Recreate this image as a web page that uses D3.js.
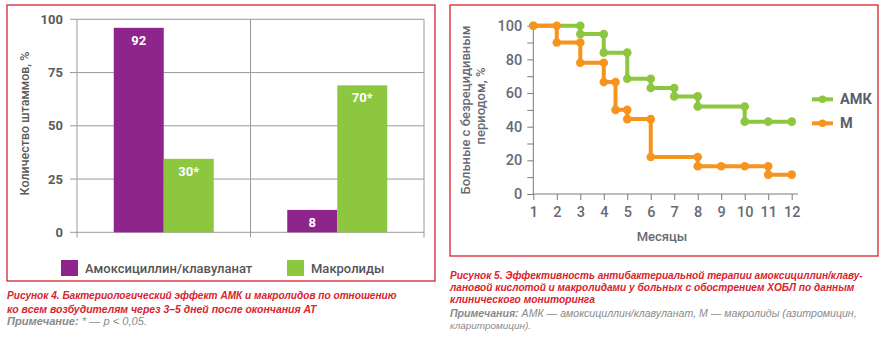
<!DOCTYPE html>
<html><head><meta charset="utf-8">
<script src="https://cdn.jsdelivr.net/npm/d3@7"></script>
<style>body{margin:0;background:#fff}svg{display:block}</style>
</head><body><svg id="c" width="886" height="339"></svg>
<script>
// ---------- DATA: Figure 4 (bars) ----------
const barCategories = ["A", "B"];               // unlabeled groups
const barSeries = ["Амоксициллин/клавуланат", "Макролиды"];
const amkBarValues = [96, 10.5];                 // drawn heights
const macBarValues = [34.5, 69];
const amkBarLabels = ["92", "8"];
const macBarLabels = ["30*", "70*"];
const barTicks = [0, 25, 50, 75, 100];

// ---------- DATA: Figure 5 (step lines) ----------
const monthTicks = [1,2,3,4,5,6,7,8,9,10,11,12];
const lineTicksY = [0,10,20,30,40,50,60,70,80,90,100];
const amkX = [1, 3, 3, 4, 4, 5, 5, 6, 6, 7, 7, 8, 8, 10, 10, 11, 12];
const amkY = [100,100,95,95,84,84,68.5,68.5,63,63,58,58,52,52,43,43,43];
const mX = [1, 2, 2, 3, 3, 4, 4, 4.5, 4.5, 5, 5, 6, 6, 8, 8, 9, 10, 11, 11, 12];
const mY = [100,100,90,90,78,78,66.5,66.5,50,50,44.5,44.5,22,22,16.5,16.5,16.5,16.5,11.5,11.5];
const lineSeries = ["АМК", "М"];

const PURPLE = "#8e258d", GREEN = "#8dc63f", ORANGE = "#f7941d", RED = "#d9232d";
const svg = d3.select("#c");

// ---------- Frames ----------
svg.append("rect").attr("x",7).attr("y",5).attr("width",428).attr("height",276)
  .attr("fill","none").attr("stroke",RED).attr("stroke-width",1.3);
svg.append("rect").attr("x",450).attr("y",5).attr("width",428).attr("height",251)
  .attr("fill","none").attr("stroke",RED).attr("stroke-width",1.3);

// ---------- Figure 4 ----------
{
  const g = svg.append("g");
  const x0 = d3.scaleBand().domain(barCategories).range([77, 424]).padding(0);
  const x1 = d3.scaleBand().domain(barSeries).range([0, x0.bandwidth()]).paddingInner(0).paddingOuter(0.735);
  const y = d3.scaleLinear().domain([0, 100]).range([232.3, 19.3]);
  const gridC = "#9a9a9a";
  g.selectAll(".hg").data(barTicks).join("line")
    .attr("x1", 70).attr("x2", 424).attr("y1", d => y(d)).attr("y2", d => y(d))
    .attr("stroke", gridC).attr("stroke-width", 1);
  const vx = [77, x0("B"), 424];
  g.selectAll(".vg").data(vx).join("line")
    .attr("x1", d => d).attr("x2", d => d).attr("y1", y(100)).attr("y2", 237.5)
    .attr("stroke", gridC).attr("stroke-width", 1);
  const ax = g.append("g").attr("transform","translate(77,0)")
    .call(d3.axisLeft(y).tickValues(barTicks).tickSize(0).tickPadding(14));
  ax.select(".domain").remove();
  ax.selectAll("text").attr("font-family","Roboto, sans-serif").attr("font-size",13)
    .attr("font-weight",700).attr("fill","#5b5b5b");
  const rows = barCategories.map((c, i) => [
    {c, s: barSeries[0], v: amkBarValues[i], lab: amkBarLabels[i], col: PURPLE},
    {c, s: barSeries[1], v: macBarValues[i], lab: macBarLabels[i], col: GREEN}
  ]).flat();
  g.selectAll(".bar").data(rows).join("rect")
    .attr("x", d => x0(d.c) + x1(d.s)).attr("width", x1.bandwidth())
    .attr("y", d => y(d.v)).attr("height", d => y(0) - y(d.v)).attr("fill", d => d.col);
  g.selectAll(".bl").data(rows).join("text")
    .attr("x", d => x0(d.c) + x1(d.s) + x1.bandwidth()/2).attr("y", d => y(d.v) + 17)
    .attr("text-anchor","middle").attr("fill","#fff").attr("font-family","Roboto, sans-serif")
    .attr("font-weight",700).attr("font-size",13).text(d => d.lab);
  g.append("text").attr("transform","translate(29,123.5) rotate(-90)").attr("text-anchor","middle")
    .attr("font-family","Roboto, sans-serif").attr("font-size",12.5).attr("font-weight",500)
    .attr("fill","#5b5b5b").text("Количество штаммов, %");
  const legX = [61, 287];
  const legCol = [PURPLE, GREEN];
  barSeries.forEach((s, i) => {
    g.append("rect").attr("x", legX[i]).attr("y", 260).attr("width", 17).attr("height", 16).attr("fill", legCol[i]);
    g.append("text").attr("x", legX[i] + 24).attr("y", 273).attr("font-family","Roboto, sans-serif")
      .attr("font-size",13).attr("font-weight",500).attr("fill","#555").text(s);
  });
}

// ---------- Figure 5 ----------
{
  const g = svg.append("g");
  const x = d3.scaleLinear().domain([1, 12]).range([533.3, 791.7]);
  const y = d3.scaleLinear().domain([0, 100]).range([194, 25.7]);
  const axC = "#7a7a7a", txtC = "#676a74";
  const ay = g.append("g").attr("transform","translate(533.3,0)")
    .call(d3.axisLeft(y).tickValues(lineTicksY).tickFormat(d => d % 20 === 0 ? d : "").tickSize(6).tickPadding(5));
  ay.select(".domain").remove();
  ay.selectAll("line").attr("stroke", axC);
  ay.selectAll("text").attr("font-family","Roboto, sans-serif").attr("font-size",14.5)
    .attr("font-weight",500).attr("fill",txtC);
  g.append("line").attr("x1",533.3).attr("x2",533.3).attr("y1",y(100)).attr("y2",y(0)).attr("stroke",axC);
  const axx = g.append("g").attr("transform","translate(0,194)")
    .call(d3.axisBottom(x).tickValues(monthTicks).tickSize(6).tickPadding(7));
  axx.select(".domain").remove();
  axx.selectAll("line").attr("stroke", axC);
  axx.selectAll("text").attr("font-family","Roboto, sans-serif").attr("font-size",14.5)
    .attr("font-weight",500).attr("fill",txtC);
  g.append("line").attr("x1",533.3).attr("x2",798).attr("y1",194).attr("y2",194).attr("stroke",axC);
  g.append("text").attr("x",662).attr("y",241).attr("text-anchor","middle")
    .attr("font-family","Roboto, sans-serif").attr("font-size",13).attr("font-weight",500)
    .attr("fill",txtC).text("Месяцы");
  g.append("text").attr("transform","translate(470,110) rotate(-90)").attr("text-anchor","middle")
    .attr("font-family","Roboto, sans-serif").attr("font-size",13).attr("font-weight",500)
    .attr("fill",txtC).text("Больные с безрецидивным");
  g.append("text").attr("transform","translate(485,106) rotate(-90)").attr("text-anchor","middle")
    .attr("font-family","Roboto, sans-serif").attr("font-size",13).attr("font-weight",500)
    .attr("fill",txtC).text("периодом, %");
  const series = [
    {name: lineSeries[0], pts: amkX.map((v, i) => [v, amkY[i]]), col: GREEN},
    {name: lineSeries[1], pts: mX.map((v, i) => [v, mY[i]]), col: ORANGE}
  ];
  const line = d3.line().x(d => x(d[0])).y(d => y(d[1]));
  series.forEach(s => {
    g.append("path").attr("d", line(s.pts)).attr("fill","none").attr("stroke", s.col)
      .attr("stroke-width", 4).attr("stroke-linejoin","round");
    g.selectAll(null).data(s.pts).join("circle")
      .attr("cx", d => x(d[0])).attr("cy", d => y(d[1])).attr("r", 4.3).attr("fill", s.col);
  });
  const ly = [99.3, 123.3];
  series.forEach((s, i) => {
    g.append("line").attr("x1",812).attr("x2",833).attr("y1",ly[i]).attr("y2",ly[i])
      .attr("stroke", s.col).attr("stroke-width", 4);
    g.append("circle").attr("cx",822.5).attr("cy",ly[i]).attr("r",3.8).attr("fill", s.col);
    g.append("text").attr("x",840).attr("y",ly[i]+5).attr("font-family","Roboto, sans-serif")
      .attr("font-size",14.5).attr("font-weight",700).attr("fill","#5b5e68").text(s.name);
  });
}

// ---------- Captions ----------
function cap(x, yb, parts, len) {
  const t = svg.append("text").attr("x", x).attr("y", yb)
    .attr("font-family","'Liberation Sans', Arial, sans-serif").attr("font-size", 11)
    .attr("font-style","italic");
  parts.forEach(p => t.append("tspan").attr("font-weight", p.b ? 700 : 400).attr("fill", p.c).text(p.t));
  const w = t.node().getComputedTextLength();
  if (w > len) {
    t.attr("font-size", 11 * len / w);
  } else {
    t.attr("textLength", len).attr("lengthAdjust","spacingAndGlyphs");
  }
}
const GRAY = "#8a8a8a";
cap(7, 298.5, [{t:"Рисунок 4. Бактериологический эффект АМК и макролидов по отношению", b:1, c:RED}], 390);
cap(7, 312.5, [{t:"ко всем возбудителям через 3–5 дней после окончания АТ", b:1, c:RED}], 310);
cap(7, 325, [{t:"Примечание:", b:1, c:GRAY}, {t:"  * — p < 0,05.", b:0, c:GRAY}], 140);

cap(450, 278.5, [{t:"Рисунок 5. Эффективность антибактериальной терапии амоксициллин/клаву-", b:1, c:RED}], 413);
cap(450, 291, [{t:"лановой кислотой и макролидами у больных с обострением ХОБЛ по данным", b:1, c:RED}], 405);
cap(450, 303, [{t:"клинического мониторинга", b:1, c:RED}], 145);
cap(450, 316.5, [{t:"Примечания:", b:1, c:GRAY}, {t:" АМК — амоксициллин/клавуланат, М — макролиды (азитромицин,", b:0, c:GRAY}], 407);
cap(450, 329, [{t:"кларитромицин).", b:0, c:GRAY}], 81);
</script></body></html>
